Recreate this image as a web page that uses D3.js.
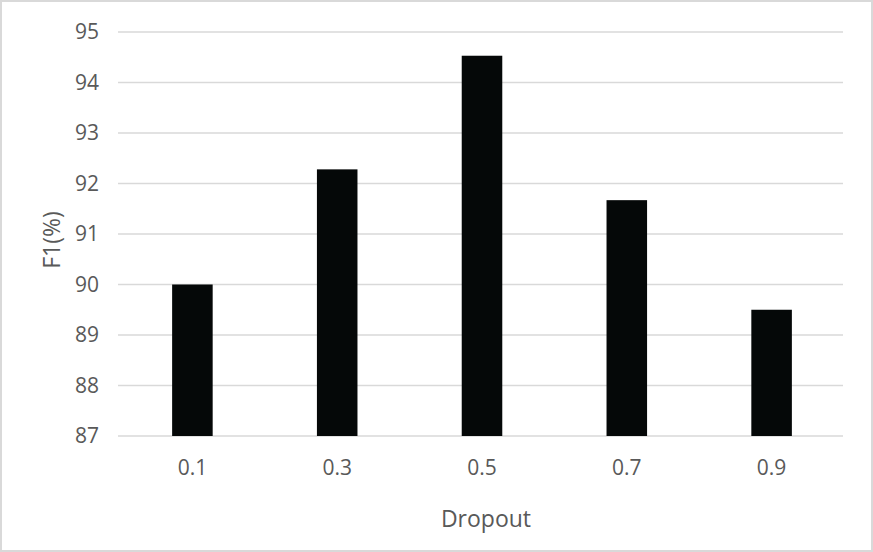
<!DOCTYPE html>
<html lang="en">
<head>
  <meta charset="UTF-8">
  <title>F1 vs Dropout</title>
  <script src="https://d3js.org/d3.v7.min.js"></script>
  <style>
    body { margin: 0; background: #fff; }
    #chart { width: 873px; height: 552px; }
    .tick text, .axis-title { font-family: "Open Sans", sans-serif; fill: #595959; }
  </style>
</head>
<body>
  <div id="chart"></div>
  <script>
    const dropouts = ["0.1", "0.3", "0.5", "0.7", "0.9"];
    const f1Scores = [90.0, 92.28, 94.53, 91.67, 89.5];
    const yTicks = [87, 88, 89, 90, 91, 92, 93, 94, 95];

    const width = 873, height = 552;
    const margin = { top: 32, right: 30, bottom: 116, left: 118 };
    const plotW = width - margin.left - margin.right;
    const plotH = height - margin.top - margin.bottom;

    const svg = d3.select("#chart").append("svg")
      .attr("width", width)
      .attr("height", height);

    // outer border
    svg.append("rect")
      .attr("x", 1).attr("y", 1)
      .attr("width", width - 2).attr("height", height - 2)
      .attr("fill", "#fff")
      .attr("stroke", "#d9d9d9")
      .attr("stroke-width", 2);

    const g = svg.append("g")
      .attr("transform", `translate(${margin.left},${margin.top})`);

    const x = d3.scaleBand().domain(dropouts).range([2, plotW + 1])
      .paddingInner(0.72).paddingOuter(0.36);
    const y = d3.scaleLinear().domain([87, 95]).range([plotH, 0]);

    // gridlines
    g.selectAll(".grid")
      .data(yTicks)
      .enter().append("line")
      .attr("class", "grid")
      .attr("x1", 0).attr("x2", plotW)
      .attr("y1", d => y(d)).attr("y2", d => y(d))
      .attr("stroke", "#d9d9d9")
      .attr("stroke-width", 1.5);

    // bars
    g.selectAll(".bar")
      .data(dropouts)
      .enter().append("rect")
      .attr("class", "bar")
      .attr("x", d => x(d))
      .attr("width", x.bandwidth())
      .attr("y", (d, i) => y(f1Scores[i]))
      .attr("height", (d, i) => y(87) - y(f1Scores[i]))
      .attr("fill", "#050808");

    // y axis
    const yAxis = g.append("g")
      .call(d3.axisLeft(y).tickValues(yTicks).tickSize(0).tickPadding(19));
    yAxis.select(".domain").remove();
    yAxis.selectAll("text").style("font-size", "21px");

    // x axis
    const xAxis = g.append("g")
      .attr("transform", `translate(0,${plotH})`)
      .call(d3.axisBottom(x).tickSize(0).tickPadding(24));
    xAxis.select(".domain").remove();
    xAxis.selectAll("text").style("font-size", "21px");

    svg.append("text")
      .attr("class", "axis-title")
      .attr("x", 486)
      .attr("y", 527)
      .attr("text-anchor", "middle")
      .style("font-size", "23px")
      .text("Dropout");

    svg.append("text")
      .attr("class", "axis-title")
      .attr("transform", `translate(60,240) rotate(-90)`)
      .attr("text-anchor", "middle")
      .style("font-size", "23px")
      .text("F1(%)");
  </script>
</body>
</html>
